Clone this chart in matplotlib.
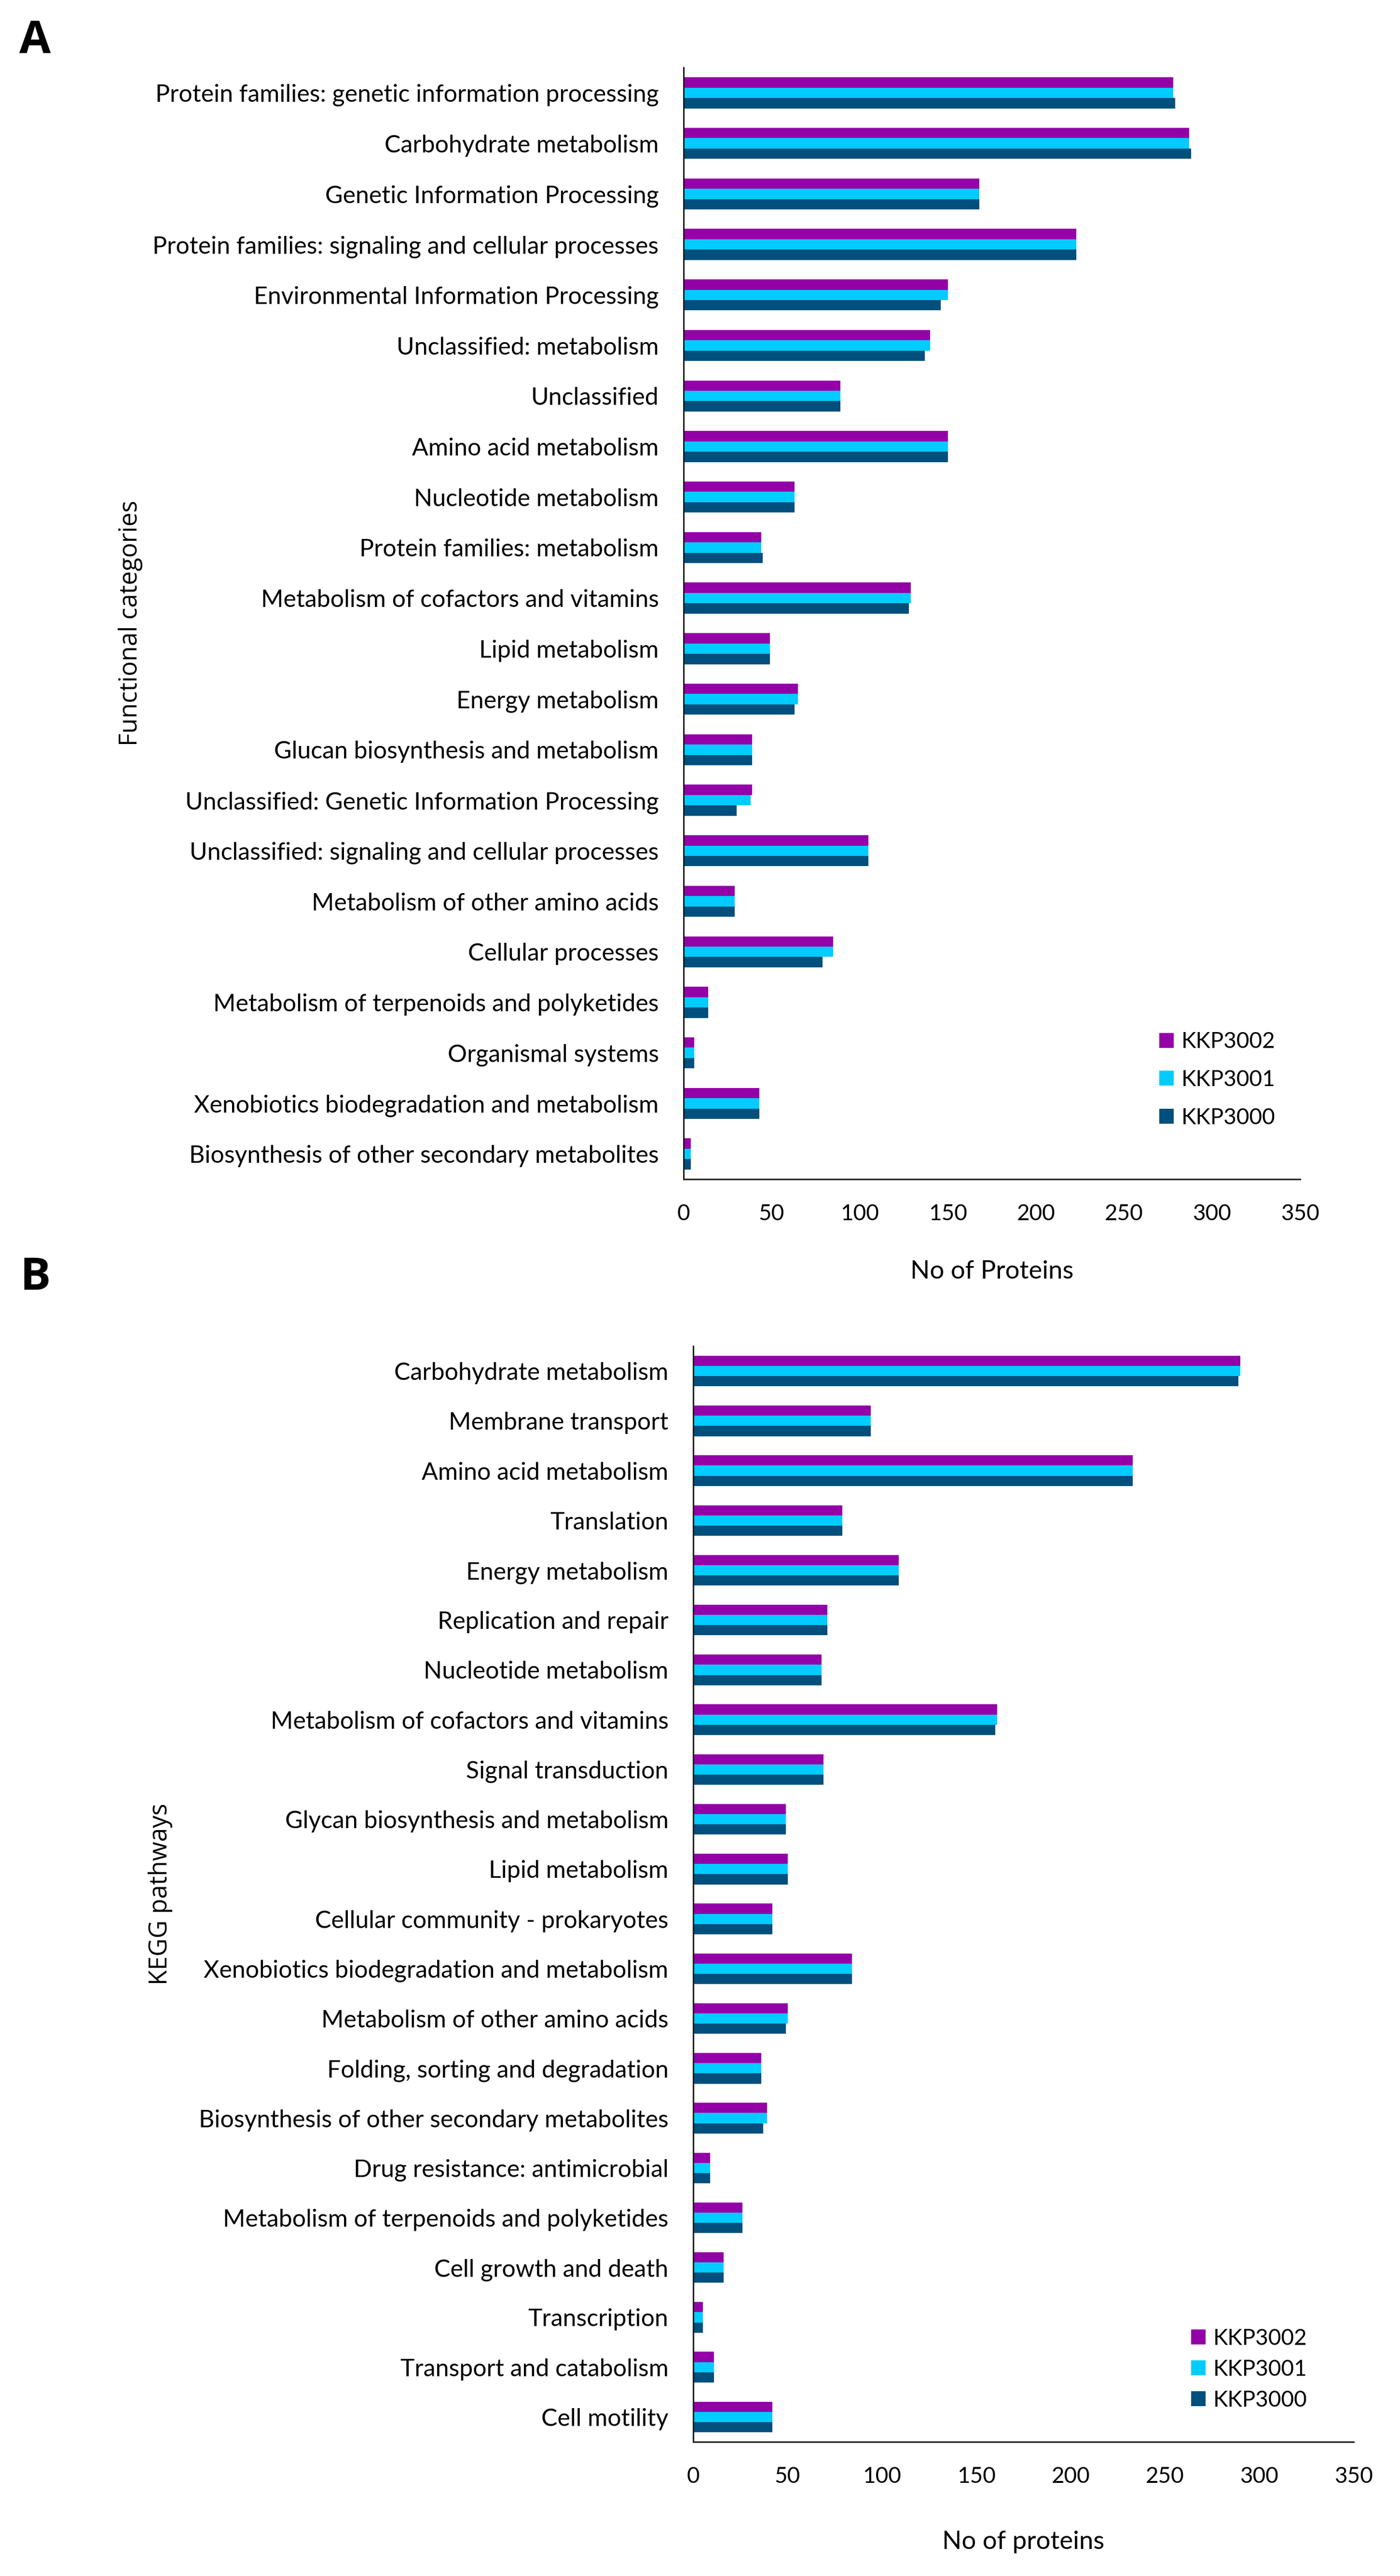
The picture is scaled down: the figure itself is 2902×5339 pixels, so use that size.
import matplotlib
matplotlib.use("Agg")
import matplotlib.pyplot as plt
import numpy as np

W, H = 2902, 5339

strains = ["KKP3002", "KKP3001", "KKP3000"]
colors = ["#9400A8", "#00CCFF", "#004F7C"]

# panel A: functional categories
cats_a = [
    "Protein families: genetic information processing",
    "Carbohydrate metabolism",
    "Genetic Information Processing",
    "Protein families: signaling and cellular processes",
    "Environmental Information Processing",
    "Unclassified: metabolism",
    "Unclassified",
    "Amino acid metabolism",
    "Nucleotide metabolism",
    "Protein families: metabolism",
    "Metabolism of cofactors and vitamins",
    "Lipid metabolism",
    "Energy metabolism",
    "Glucan biosynthesis and metabolism",
    "Unclassified: Genetic Information Processing",
    "Unclassified: signaling and cellular processes",
    "Metabolism of other amino acids",
    "Cellular processes",
    "Metabolism of terpenoids and polyketides",
    "Organismal systems",
    "Xenobiotics biodegradation and metabolism",
    "Biosynthesis of other secondary metabolites",
]
a_kkp3002 = [278, 287, 168, 223, 150, 140, 89, 150, 63, 44, 129, 49, 65, 39, 39, 105, 29, 85, 14, 6, 43, 4]
a_kkp3001 = [278, 287, 168, 223, 150, 140, 89, 150, 63, 44, 129, 49, 65, 39, 38, 105, 29, 85, 14, 6, 43, 4]
a_kkp3000 = [279, 288, 168, 223, 146, 137, 89, 150, 63, 45, 128, 49, 63, 39, 30, 105, 29, 79, 14, 6, 43, 4]

# panel B: KEGG pathways
cats_b = [
    "Carbohydrate metabolism",
    "Membrane transport",
    "Amino acid metabolism",
    "Translation",
    "Energy metabolism",
    "Replication and repair",
    "Nucleotide metabolism",
    "Metabolism of cofactors and vitamins",
    "Signal transduction",
    "Glycan biosynthesis and metabolism",
    "Lipid metabolism",
    "Cellular community - prokaryotes",
    "Xenobiotics biodegradation and metabolism",
    "Metabolism of other amino acids",
    "Folding, sorting and degradation",
    "Biosynthesis of other secondary metabolites",
    "Drug resistance: antimicrobial",
    "Metabolism of terpenoids and polyketides",
    "Cell growth and death",
    "Transcription",
    "Transport and catabolism",
    "Cell motility",
]
b_kkp3002 = [290, 94, 233, 79, 109, 71, 68, 161, 69, 49, 50, 42, 84, 50, 36, 39, 9, 26, 16, 5, 11, 42]
b_kkp3001 = [290, 94, 233, 79, 109, 71, 68, 161, 69, 49, 50, 42, 84, 50, 36, 39, 9, 26, 16, 5, 11, 42]
b_kkp3000 = [289, 94, 233, 79, 109, 71, 68, 160, 69, 49, 50, 42, 84, 49, 36, 37, 9, 26, 16, 5, 11, 42]

xticks = [0, 50, 100, 150, 200, 250, 300, 350]

LABEL_FONT = "Lato"
AXIS_FONT = "Open Sans"


def px_rect(left, top, right, bottom):
    return [left / W, 1 - bottom / H, (right - left) / W, (bottom - top) / H]


def draw_panel(fig, rect, categories, values, ylabel, ylabel_x, xlabel, xlabel_y,
               letter, letter_pos, legend_pos, legend_spacing):
    ax = fig.add_axes(rect)
    y = np.arange(len(categories))
    offsets = [-0.205, 0.0, 0.205]
    for name, vals, color, off in zip(strains, values, colors, offsets):
        ax.barh(y + off, vals, height=0.205, color=color, label=name, linewidth=0)

    ax.set_xlim(0, 350)
    ax.set_ylim(len(categories) - 0.5, -0.5)
    ax.set_xticks(xticks)
    ax.set_yticks(y)
    ax.set_yticklabels(categories, fontfamily=LABEL_FONT, fontsize=36)
    for lab in ax.get_xticklabels():
        lab.set_fontfamily(LABEL_FONT)
        lab.set_fontsize(33)
    ax.tick_params(length=0, pad=37)
    for side in ["top", "right"]:
        ax.spines[side].set_visible(False)
    for side in ["left", "bottom"]:
        ax.spines[side].set_linewidth(2.2)
        ax.spines[side].set_color("#1a1a1a")

    top = (1 - rect[1] - rect[3]) * H
    bottom = (1 - rect[1]) * H
    fig.text(ylabel_x / W, 1 - (top + bottom) / 2 / H, ylabel, rotation=90,
             ha="center", va="center", fontfamily=AXIS_FONT, fontsize=37)
    fig.text(rect[0] + rect[2] / 2, 1 - xlabel_y / H, xlabel, ha="center", va="center",
             fontfamily=LABEL_FONT, fontsize=38)
    fig.text(letter_pos[0] / W, 1 - letter_pos[1] / H, letter, ha="left", va="baseline",
             fontfamily=AXIS_FONT, fontweight="bold", fontsize=68)

    ax.legend(loc="center left", bbox_to_anchor=(legend_pos[0] / W, 1 - legend_pos[1] / H),
              bbox_transform=fig.transFigure, frameon=False, borderpad=0, borderaxespad=0,
              handlelength=0.66, handleheight=0.66, handletextpad=0.33,
              labelspacing=legend_spacing, prop={"family": LABEL_FONT, "size": 33})
    return ax


fig = plt.figure(figsize=(W / 100, H / 100), dpi=100)

draw_panel(fig, px_rect(1417, 140, 2695, 2444), cats_a,
           [a_kkp3002, a_kkp3001, a_kkp3000],
           "Functional categories", 270, "No of Proteins", 2636,
           "A", (40, 110), (2403, 2238), 0.8)

draw_panel(fig, px_rect(1437, 2790, 2806, 5061), cats_b,
           [b_kkp3002, b_kkp3001, b_kkp3000],
           "KEGG pathways", 333, "No of proteins", 5268,
           "B", (41, 2673), (2469, 4911), 0.48)

fig.savefig("out.png", dpi=100, facecolor="white")
